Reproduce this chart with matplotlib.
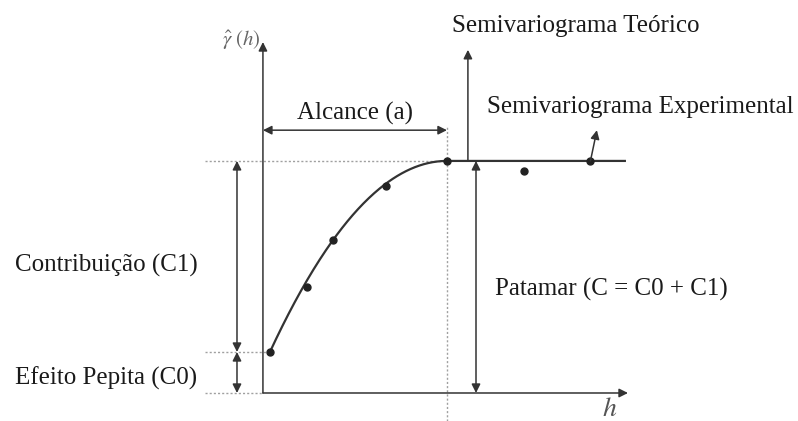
''' semivariograma teórico e experimental '''
import numpy as np
import matplotlib.pyplot as plt

# parâmetros do modelo
C0 = 1.0      # efeito pepita
C1 = 4.66     # contribuição
a = 10.0      # alcance

# pontos do semivariograma experimental
h_exp = [0.38, 2.4, 3.8, 6.7, 10.0, 14.2, 17.8]
g_exp = [1.0, 2.59, 3.73, 5.05, 5.66, 5.41, 5.66]

rotulos = {
    'alcance': 'Alcance (a)',
    'teorico': 'Semivariograma Teórico',
    'experimental': 'Semivariograma Experimental',
    'patamar': 'Patamar (C = C0 + C1)',
    'contribuicao': 'Contribuição (C1)',
    'pepita': 'Efeito Pepita (C0)',
}


def modelo(h, c0, c1, h0, a):
    r = np.clip((np.asarray(h, dtype=float) - h0) / (a - h0), 0, 1)
    return c0 + c1 * (1 - (1 - r) ** 2)


def seta(ax, p0, p1, estilo='<|-|>'):
    ax.annotate('', xy=p1, xytext=p0,
                arrowprops=dict(arrowstyle=estilo, color='#333333', lw=1.1,
                                mutation_scale=13, shrinkA=0, shrinkB=0))


def main():
    plt.rcParams['font.family'] = ['Liberation Serif', 'DejaVu Serif']
    plt.rcParams['mathtext.fontset'] = 'stix'
    fig = plt.figure(figsize=(7.98, 4.21), dpi=100)
    ax = fig.add_axes([0, 0, 1, 1])
    ax.set_xlim(-14.29, 29.08)
    ax.set_ylim(-0.683, 9.585)
    ax.axis('off')

    C = C0 + C1
    esq = -3.15
    fim = 19.67
    fs = 18
    cor_txt = '#1a1a1a'

    # linhas auxiliares pontilhadas
    cinza = dict(color='#a0a0a0', lw=1.0, ls=(0, (1.5, 1.5)))
    ax.plot([esq, 0], [0, 0], **cinza)
    ax.plot([esq, a], [C, C], **cinza)
    ax.plot([esq, h_exp[0]], [C0, C0], **cinza)
    ax.plot([a, a], [-0.68, 6.49], **cinza)

    # eixos
    seta(ax, (0, 0), (0, 8.56), '-|>')
    seta(ax, (0, 0), (19.84, 0), '-|>')

    # modelo teórico
    h = np.linspace(h_exp[0], fim, 400)
    ax.plot(h, modelo(h, C0, C1, h_exp[0], a), color='#333333', lw=1.6)
    ax.plot(h_exp, g_exp, 'o', color='#222222', ms=5)

    # alcance
    seta(ax, (0, 6.41), (a, 6.41))
    ax.text(a / 2, 6.83, rotulos['alcance'], ha='center', va='center',
            fontsize=fs, color=cor_txt)

    # teórico
    seta(ax, (11.14, C), (11.14, 8.37), '-|>')
    ax.text(10.27, 8.95, rotulos['teorico'], ha='left', va='center',
            fontsize=fs, color=cor_txt)

    # experimental
    seta(ax, (h_exp[-1], g_exp[-1]), (18.15, 6.41), '-|>')
    ax.text(12.17, 6.98, rotulos['experimental'], ha='left', va='center',
            fontsize=fs, color=cor_txt)

    # patamar
    seta(ax, (11.58, 0), (11.58, C))
    ax.text(12.6, 2.52, rotulos['patamar'], ha='left', va='center',
            fontsize=fs, color=cor_txt)

    # contribuição e efeito pepita
    seta(ax, (-1.41, C0), (-1.41, C))
    seta(ax, (-1.41, 0), (-1.41, C0))
    ax.text(-13.48, 3.12, rotulos['contribuicao'], ha='left', va='center',
            fontsize=fs, color=cor_txt)
    ax.text(-13.48, 0.37, rotulos['pepita'], ha='left', va='center',
            fontsize=fs, color=cor_txt)

    # rótulos dos eixos
    ax.text(-2.23, 8.6, r'$\hat{\gamma}\ (h)$', ha='left', va='center',
            fontsize=15, color='#666666')
    ax.text(18.86, -0.41, r'$h$', ha='center', va='center',
            fontsize=20, color='#555555')

    fig.savefig('out.png', dpi=100)


if __name__ == '__main__':
    main()
